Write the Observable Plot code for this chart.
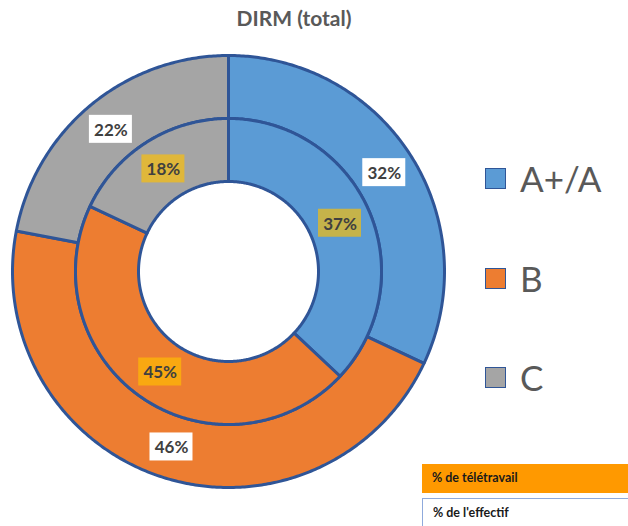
<!DOCTYPE html>
<html><head><meta charset="utf-8">
<script src="https://cdn.jsdelivr.net/npm/d3@7"></script>
<script src="https://cdn.jsdelivr.net/npm/@observablehq/plot@0.6"></script>
<style>
body{margin:0;width:628px;height:526px;overflow:hidden;background:#fff;font-family:Lato,"Open Sans",sans-serif;position:relative}
#chart{position:absolute;left:0;top:0}
#title{position:absolute;left:194px;width:200px;top:5px;text-align:center;font-weight:bold;font-size:21px;color:#595959}
.leg{position:absolute;left:485px;display:flex;align-items:center;height:40px}
.leg .sw{width:19px;height:19px;border:1.5px solid #2F5597;margin-right:14px}
.leg .lb{font-size:35px;color:#595959;line-height:40px}
.note{position:absolute;left:422px;width:206px;height:29px;box-sizing:border-box;font-size:12.5px;font-weight:bold;color:#1a1a1a;line-height:27px;padding-left:10px}
</style></head><body>
<div id="chart"></div>
<div id="title">DIRM (total)</div>
<div id="legend"></div>
<div id="notes"></div>
<script>
// Data
const categories = ["A+/A", "B", "C"];
const effectif = [32, 46, 22];     // outer ring: % de l'effectif
const teletravail = [37, 45, 18];  // inner ring: % de télétravail
const colors = ["#5B9BD5", "#ED7D31", "#A5A5A5"];
const noteLabels = ["% de télétravail", "% de l'effectif"];
const titleText = "DIRM (total)";

// Layout
const W = 628, H = 526, cx = 228, cy = 271, R = 216;
const rHole = 90 / R, rMid = 153 / R, rOut = 1;

function ring(values, r0, r1, name) {
  const segs = [], labels = [];
  let acc = 0;
  values.forEach((v, i) => {
    const a0 = acc / 100 * 2 * Math.PI; acc += v;
    const a1 = acc / 100 * 2 * Math.PI;
    const n = Math.max(2, Math.ceil((a1 - a0) / 0.01));
    const key = name + i;
    for (let k = 0; k <= n; k++) {
      const a = a0 + (a1 - a0) * k / n;
      segs.push({key, color: colors[i], x: r1 * Math.sin(a), y: r1 * Math.cos(a)});
    }
    for (let k = n; k >= 0; k--) {
      const a = a0 + (a1 - a0) * k / n;
      segs.push({key, color: colors[i], x: r0 * Math.sin(a), y: r0 * Math.cos(a)});
    }
    const am = (a0 + a1) / 2, rm = (r0 + r1) / 2;
    labels.push({x: rm * Math.sin(am), y: rm * Math.cos(am), text: v + "%"});
  });
  return {segs, labels};
}

const outer = ring(effectif, rMid, rOut, "o");
const inner = ring(teletravail, rHole, rMid, "i");
const bw = 21.5 / R, bh = 14 / R;

const chart = Plot.plot({
  width: W, height: H, margin: 0,
  x: {domain: [-cx / R, (W - cx) / R], axis: null},
  y: {domain: [-(H - cy) / R, cy / R], axis: null},
  color: {type: "identity"},
  marks: [
    Plot.line(outer.segs.concat(inner.segs), {x: "x", y: "y", z: "key", fill: "color", stroke: "#2F5597", strokeWidth: 3, curve: "linear-closed", strokeLinejoin: "round"}),
    Plot.rect(outer.labels, {x1: d => d.x - bw, x2: d => d.x + bw, y1: d => d.y - bh, y2: d => d.y + bh, fill: "#ffffff"}),
    Plot.rect(inner.labels, {x1: d => d.x - bw, x2: d => d.x + bw, y1: d => d.y - bh, y2: d => d.y + bh, fill: "#FFC000", fillOpacity: 0.65}),
    Plot.text(outer.labels.concat(inner.labels), {x: "x", y: "y", text: "text", fill: "#404040", fontSize: 17, fontWeight: "bold", fontFamily: "Lato", dy: 1})
  ]
});
document.getElementById("chart").appendChild(chart);
document.getElementById("title").textContent = titleText;

const legTops = [158, 258, 357];
const leg = document.getElementById("legend");
categories.forEach((c, i) => {
  const d = document.createElement("div");
  d.className = "leg"; d.style.top = legTops[i] + "px";
  d.innerHTML = `<div class="sw" style="background:${colors[i]}"></div><div class="lb">${c}</div>`;
  leg.appendChild(d);
});

const notes = document.getElementById("notes");
const n1 = document.createElement("div");
n1.className = "note"; n1.style.top = "464px"; n1.style.background = "#FF9900"; n1.textContent = noteLabels[0];
const n2 = document.createElement("div");
n2.className = "note"; n2.style.top = "498px"; n2.style.background = "#fff";
n2.style.borderLeft = "1.5px solid #8FAADC"; n2.style.borderTop = "1.5px solid #8FAADC"; n2.textContent = noteLabels[1];
notes.appendChild(n1); notes.appendChild(n2);
</script>
</body></html>
